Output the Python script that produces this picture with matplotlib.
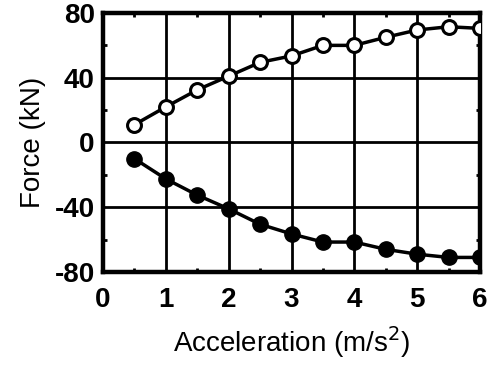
import numpy as np
import matplotlib.pyplot as plt
from matplotlib.ticker import MultipleLocator

accel = [0.5, 1, 1.5, 2, 2.5, 3, 3.5, 4, 4.5, 5, 5.5, 6]
force_open = [11, 22, 32.5, 41, 49.5, 53.5, 60, 60, 65, 69.5, 71.5, 70.5]
force_filled = [-10, -22.5, -32.5, -41, -50.5, -56.5, -61.5, -61.5, -66, -69, -71, -71]

plt.rcParams['font.family'] = ['Liberation Sans', 'DejaVu Sans']
plt.rcParams['axes.unicode_minus'] = False

fig = plt.figure(figsize=(4.94, 3.65), dpi=100)
ax = fig.add_axes([0.2085, 0.2548, 0.7632, 0.7096])

ax.grid(True, color='black', linewidth=2)
ax.set_axisbelow(True)

ax.plot(accel, force_open, color='black', linewidth=2.5, marker='o', markersize=10,
        markerfacecolor='white', markeredgecolor='black', markeredgewidth=2.2, zorder=3)
ax.plot(accel, force_filled, color='black', linewidth=2.5, marker='o', markersize=11,
        markerfacecolor='black', markeredgecolor='black', zorder=3)

ax.set_xlim(0, 6)
ax.set_ylim(-80, 80)
ax.xaxis.set_major_locator(MultipleLocator(1))
ax.yaxis.set_major_locator(MultipleLocator(40))
ax.xaxis.set_minor_locator(MultipleLocator(0.5))
ax.yaxis.set_minor_locator(MultipleLocator(20))
ax.tick_params(which='both', direction='in', top=True, right=True, width=2)
ax.tick_params(which='major', length=0, labelsize=20)
ax.tick_params(axis='x', which='major', pad=11)
ax.tick_params(axis='y', which='major', pad=6)
ax.tick_params(which='minor', length=3)
for lbl in ax.get_xticklabels() + ax.get_yticklabels():
    lbl.set_fontweight('bold')

for s in ax.spines.values():
    s.set_linewidth(3.2)

ax.set_xlabel('Acceleration (m/s$^2$)', fontsize=20, labelpad=8)
ax.set_ylabel('Force (kN)', fontsize=20, labelpad=6)

fig.savefig('out.png', dpi=100)
